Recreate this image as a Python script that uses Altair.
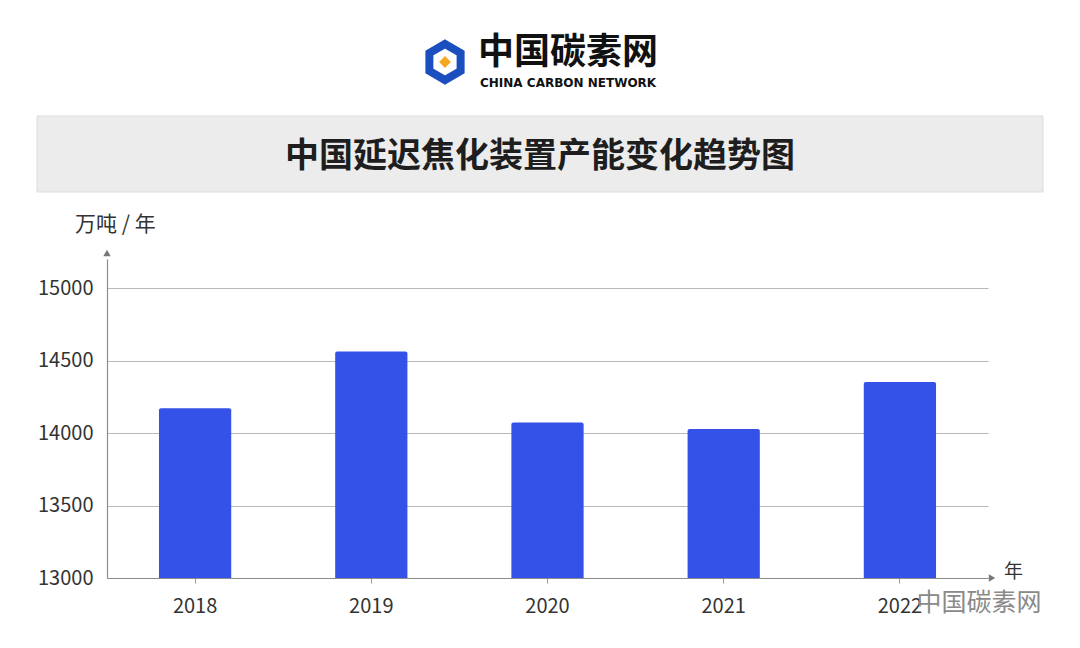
import altair as alt
import pandas as pd

years = ["2018", "2019", "2020", "2021", "2022"]
capacity = [14170, 14562, 14072, 14028, 14352]
y_ticks = [13000, 13500, 14000, 14500, 15000]
y_base = 13000

title_text = "中国延迟焦化装置产能变化趋势图"
unit_text = "万吨 / 年"
x_unit_text = "年"
brand_cn = "中国碳素网"
brand_en = "CHINA CARBON NETWORK"

df = pd.DataFrame({"year": years, "value": capacity})
one = pd.DataFrame({"k": [0]})

CJK = "Noto Sans CJK SC"

bars = alt.Chart(df).mark_bar(
    color="#3452E8", cornerRadiusTopLeft=2, cornerRadiusTopRight=2
).encode(
    x=alt.X("year:N", sort=years,
            scale=alt.Scale(paddingInner=0.59, paddingOuter=0.295),
            axis=alt.Axis(title=None, labelAngle=0, labelFontSize=20, labelColor="#333333",
                          labelFont=CJK, labelPadding=13, tickSize=5, tickColor="#999999",
                          domainColor="#8c8c8c", domainWidth=1.2, grid=False)),
    y=alt.Y("value:Q", scale=alt.Scale(domain=[13000, 15200], nice=False, zero=False),
            axis=alt.Axis(title=None, values=y_ticks, format="d", labelFontSize=20,
                          labelColor="#333333", labelFont=CJK, labelPadding=14, ticks=False,
                          domainColor="#8c8c8c", domainWidth=1.2,
                          grid=True, gridColor="#b8b8b8", gridWidth=1)),
    y2=alt.datum(y_base),
)

# title box
title_box = alt.Chart(one).mark_rect(fill="#ececec", stroke="#dddddd", strokeWidth=1).encode(
    x=alt.value(-70), x2=alt.value(936), y=alt.value(-143), y2=alt.value(-67))
title = alt.Chart(one).mark_text(text=title_text, font=CJK, fontSize=34, fontWeight="bold",
                                 color="#1e1e1e", align="center", baseline="middle").encode(
    x=alt.value(433), y=alt.value(-102))

# logo
logo_cn = alt.Chart(one).mark_text(text=brand_cn, font=CJK, fontSize=36, fontWeight="bold",
                                   color="#111111", align="left", baseline="middle").encode(
    x=alt.value(371), y=alt.value(-206))
logo_en = alt.Chart(one).mark_text(text=brand_en, font="DejaVu Sans", fontSize=12,
                                   fontWeight="bold", color="#111111", align="left",
                                   baseline="middle").encode(
    x=alt.value(373), y=alt.value(-176))
hexagon = "M0,-1 L0.866,-0.5 L0.866,0.5 L0,1 L-0.866,0.5 L-0.866,-0.5 Z"
logo_hex = alt.Chart(one).mark_point(shape=hexagon, filled=False, stroke="#1b4fbf",
                                     strokeWidth=8, size=1300, opacity=1).encode(
    x=alt.value(338), y=alt.value(-197))
logo_dia = alt.Chart(one).mark_point(shape="diamond", filled=True, fill="#f5a623",
                                     stroke="#f5a623", size=80, opacity=1).encode(
    x=alt.value(338), y=alt.value(-197))

# axis units and arrows
unit = alt.Chart(one).mark_text(text=unit_text, font=CJK, fontSize=21, color="#333333",
                                align="left", baseline="middle").encode(
    x=alt.value(-32), y=alt.value(-34))
y_arrow = alt.Chart(one).mark_point(shape="triangle-up", filled=True, fill="#777777",
                                    strokeWidth=0, size=55, opacity=1).encode(
    x=alt.value(0), y=alt.value(-6))
x_arrow = alt.Chart(one).mark_point(shape="triangle-right", filled=True, fill="#777777",
                                    strokeWidth=0, size=55, opacity=1).encode(
    x=alt.value(885), y=alt.value(319))
x_unit = alt.Chart(one).mark_text(text=x_unit_text, font=CJK, fontSize=19, color="#333333",
                                  align="left", baseline="middle").encode(
    x=alt.value(897), y=alt.value(313))

# bottom-right watermark
wm = alt.Chart(one).mark_text(text=brand_cn, font=CJK, fontSize=25, color="#8a8a8a",
                              align="center", baseline="middle").encode(
    x=alt.value(872), y=alt.value(344))

chart = alt.layer(
    title_box, title, logo_hex, logo_dia, logo_cn, logo_en, unit,
    bars, y_arrow, x_arrow, x_unit, wm
).properties(
    width=881, height=319,
    autosize=alt.AutoSizeParams(type="none"),
    padding={"left": 99, "top": 251, "right": 84, "bottom": 58},
    background="#ffffff",
).configure_view(stroke=None)

chart.save("out.html", embed_options={"renderer": "svg", "actions": False})
